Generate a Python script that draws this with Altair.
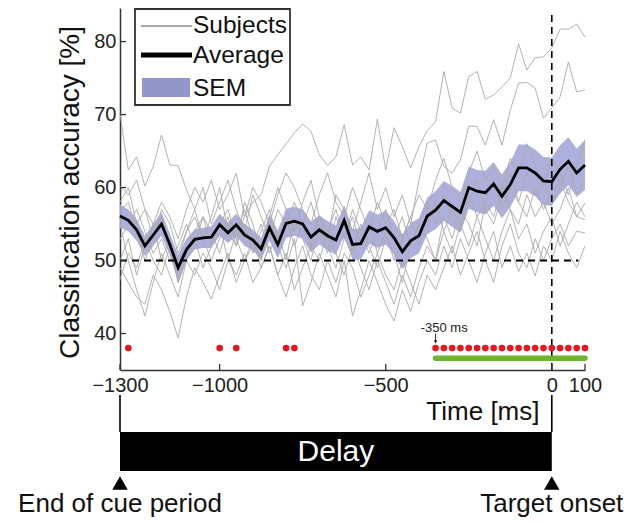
import altair as alt
import pandas as pd

# ---------------- data ----------------
TIME = list(range(-1300, 101, 25))  # 25 ms sample grid, 57 points

AVERAGE = [56.1, 55.5, 54.2, 52.0, 53.5, 55.0, 52.2, 49.0, 51.5, 52.9, 53.1,
           53.2, 54.9, 53.8, 54.9, 53.5, 52.8, 51.6, 54.5, 52.2, 55.1,
           55.4, 55.0, 53.2, 54.2, 53.4, 52.8, 55.5, 52.2, 52.3, 54.6,
           54.0, 54.5, 53.1, 51.2, 52.7, 53.4, 56.1, 56.9, 58.2, 57.4,
           56.6, 60.0, 59.5, 59.3, 60.5, 58.8, 60.4, 62.7, 62.7, 62.0,
           60.9, 60.8, 62.5, 63.6, 62.0, 63.1]

SEM = [1.6, 1.5, 1.5, 1.4, 1.5, 1.6, 1.5,
       1.8, 1.5, 1.4, 1.4, 1.5, 1.5, 1.4, 1.5, 1.5, 1.4, 1.5,
       1.8, 1.9, 2.0, 2.0, 2.0, 2.1, 2.0, 2.0, 2.0, 2.1, 2.1,
       2.2, 2.3, 2.3, 2.3, 2.3, 2.4, 2.4, 2.4, 2.5,
       2.6, 2.7, 2.8, 2.8, 2.9, 2.9, 3.0, 3.0, 3.0, 3.1,
       3.2, 3.2, 3.2, 3.3, 3.3, 3.3, 3.3, 3.3, 3.4]

SUBJECTS = {
    "S1": [70.2, 62.4, 64.2, 60.2, 62.9, 67.2, 63.1, 63.0, 59.7, 57, 60,
           55, 58, 61, 57, 54, 59, 56, 53, 57, 55,
           58, 55, 52, 56, 54, 57, 53, 56, 52, 55,
           51, 54, 50, 53, 56, 52, 55, 58, 54, 57,
           55, 59, 56, 58, 61, 57, 60, 58, 62, 59,
           61, 58, 60, 63, 59, 61],
    "S2": [50, 53, 48, 52, 55, 50, 53, 47, 51, 54, 56,
           52, 55, 57, 53, 56, 58, 59, 62.9, 64.5, 66.0,
           67.5, 68.7, 67.7, 64.5, 63.0, 64.2, 68.6, 63.1, 64.2, 62.4,
           69.4, 62.4, 68.2, 65.6, 62.7, 65.6, 67.8, 69.0, 75.9, 70.9,
           70.2, 75.2, 75.9, 72.1, 72.7, 73.8, 75.0, 79.7, 76.1, 77.8,
           77.9, 79.1, 81.7, 81.7, 82.4, 80.6],
    "S3": [58, 60, 55, 57, 53, 56, 52, 50, 54, 57, 53,
           56, 60, 54, 52, 58, 55, 51, 56, 60, 57,
           54, 58, 61, 56, 53, 59, 57, 54, 58, 62,
           57, 60, 56, 59, 55, 61, 66.1, 66.5, 62.9, 62.0,
           63.8, 68.4, 68.4, 65.8, 69.3, 65.8, 70.6, 74.3, 74.4, 73.6,
           69.5, 70.9, 72.4, 77.2, 73.1, 73.4],
    "S4": [49, 47, 45, 44, 48, 46, 43, 39.4, 45, 49, 47,
           44.7, 48, 51, 47, 50, 53, 49, 52, 48, 51,
           46, 49, 52, 50, 54, 51, 48, 52, 49, 46,
           50, 47, 44, 48, 45, 49, 52, 50, 54, 51,
           55, 52, 56, 53, 50, 54, 57, 53, 55, 51,
           54, 56, 52, 55, 58, 56],
    "S5": [55, 50, 46, 42.4, 47, 51, 48, 45, 50, 53, 49,
           52, 55, 50, 54, 57, 53, 50, 55, 52, 49,
           53, 43.8, 47, 51, 48, 45, 50, 42.4, 46, 50,
           47, 44, 41.7, 46, 43, 47, 50, 48, 52, 49,
           53, 50, 47, 51, 54, 49, 52, 48.5, 51, 47.9,
           52, 50, 54, 51, 49, 52],
    "S6": [60.2, 59, 61, 57, 55, 58, 56, 53, 57, 60, 58,
           61, 57, 59, 62, 56, 60, 58, 55, 59, 62,
           60, 57, 55, 59, 62, 58, 56, 60, 57, 54,
           58, 55, 57, 53, 56, 59, 57, 61, 64, 60,
           58, 62, 65, 61, 63, 60, 64, 62, 66, 63,
           60, 64, 62, 59, 63, 66.5],
    "S7": [52.9, 55, 57, 54, 51, 53, 50, 52, 55, 52, 56,
           54, 51, 55, 53, 50, 52, 55, 51, 54, 50,
           56, 53, 50, 55, 52, 49, 53, 51, 55, 52,
           49, 53, 51, 47, 52, 55, 53, 50, 56, 53,
           57, 55, 52, 58, 56, 60, 57, 55, 59, 56,
           58, 55, 57, 60, 56, 55.6],
    "S8": [56.7, 58, 54, 50, 53, 57, 55, 51, 54, 56, 53,
           50, 53, 56, 52, 55, 51, 54, 57, 53, 56,
           52, 55, 58, 54, 51, 56, 53, 57, 54, 51,
           54, 57, 53, 56, 52, 55, 58, 55, 59, 56,
           54, 58, 61, 57, 55, 59, 62, 58, 56, 60,
           57, 59, 61, 58, 56, 57.9],
    "S9": [47.4, 51, 49, 53, 50, 48, 52, 47, 50, 48, 51,
           49, 46, 50, 48, 51, 47, 49, 52, 48, 45,
           49, 52, 48, 46, 50, 47, 51, 49, 45, 48,
           51, 48, 46, 50, 47, 44, 48, 46, 49, 52,
           48, 51, 54, 50, 47, 52, 55, 51, 49, 53,
           50, 53, 55, 52, 54, 53.8],
}

SIG_TIMES = [-1275, -1000, -950, -800, -775,
             -350, -325, -300, -275, -250, -225, -200, -175, -150, -125,
             -100, -75, -50, -25, 0, 25, 50, 75, 100]
SIG_LEVEL = 38.0
CLUSTER_START, CLUSTER_END, CLUSTER_LEVEL = -350, 100, 36.6
CHANCE = 50
CHANCE_END = 80
X_TICKS = [-1300, -1000, -500, 0, 100]
Y_TICKS = [40, 50, 60, 70, 80]
DELAY_START, DELAY_END = -1300, 0

# ---------------- style ----------------
W, H = 465, 362
FONT = "Liberation Sans"
GRAY = "#a9a9a9"
SEM_FILL = "#a4a7d8"
SEM_LEGEND = "#9296c8"
RED = "#e8161e"
GREEN = "#6db52e"
AX = "#333333"

xscale = alt.Scale(domain=[-1300, 100], nice=False, zero=False)
yscale = alt.Scale(domain=[35, 84.6], nice=False, zero=False)

xaxis = alt.Axis(values=X_TICKS, format="d", ticks=False, tickSize=0, grid=False,
                 labelFontSize=20, labelPadding=5, labelFlush=False,
                 labelOverlap=False, labelColor="#222", labelFont=FONT,
                 domainColor=AX, domainWidth=1.5,
                 title="Time [ms]", titleFontSize=26, titleFontWeight="normal",
                 titleFont=FONT, titleColor="#111",
                 titleX=419, titleY=41, titleAlign="right", titleBaseline="middle")
yaxis = alt.Axis(values=Y_TICKS, ticks=False, tickSize=0, grid=False,
                 labelFontSize=20, labelPadding=4, labelColor="#222", labelFont=FONT,
                 domainColor=AX, domainWidth=1.5,
                 title="Classification accuracy [%]", titleFontSize=28,
                 titleFontWeight="normal", titleFont=FONT, titleColor="#111",
                 titleAngle=270, titleX=-50, titleY=184, titleAlign="center",
                 titleBaseline="middle")

X = lambda f: alt.X(f, type="quantitative", scale=xscale, axis=xaxis)
Y = lambda f: alt.Y(f, type="quantitative", scale=yscale, axis=yaxis)

# ---------------- tables ----------------
avg_df = pd.DataFrame({"t": TIME, "v": AVERAGE, "sem": SEM})
avg_df["lo"] = avg_df["v"] - avg_df["sem"]
avg_df["hi"] = avg_df["v"] + avg_df["sem"]

subj_rows = []
for name, vals in SUBJECTS.items():
    for t, v in zip(TIME, vals):
        subj_rows.append({"subject": name, "t": t, "v": v})
subj_df = pd.DataFrame(subj_rows)

sig_df = pd.DataFrame({"t": SIG_TIMES, "v": [SIG_LEVEL] * len(SIG_TIMES)})
one = pd.DataFrame({"d": [0]})

# ---------------- layers ----------------
band = alt.Chart(avg_df).mark_area(color=SEM_FILL, opacity=0.9).encode(
    x=X("t"), y=Y("lo"), y2="hi")

subjects = alt.Chart(subj_df).mark_line(color=GRAY, strokeWidth=0.9).encode(
    x=X("t"), y=Y("v"), detail="subject:N")

average = alt.Chart(avg_df).mark_line(color="black", strokeWidth=2.8).encode(
    x=X("t"), y=Y("v"))

chance = alt.Chart(pd.DataFrame({"t": [-1300], "t2": [CHANCE_END], "v": [CHANCE]})).mark_rule(
    color="black", strokeWidth=2, strokeDash=[7, 5]).encode(x=X("t"), x2="t2", y=Y("v"))

onset = alt.Chart(pd.DataFrame({"t": [0], "v": [35], "v2": [84.3]})).mark_rule(
    color="black", strokeWidth=1.6, strokeDash=[7, 5]).encode(x=X("t"), y=Y("v"), y2="v2")

dots = alt.Chart(sig_df).mark_circle(color=RED, size=44, opacity=1).encode(
    x=X("t"), y=Y("v"))

cluster = alt.Chart(pd.DataFrame({"t": [CLUSTER_START], "t2": [CLUSTER_END], "v": [CLUSTER_LEVEL]})).mark_rule(
    color=GREEN, strokeWidth=5.5, strokeCap="round").encode(x=X("t"), x2="t2", y=Y("v"))

ann_text = alt.Chart(pd.DataFrame({"t": [-324], "v": [40.7], "label": ["-350 ms"]})).mark_text(
    fontSize=13, font=FONT, color="#222", baseline="middle", align="center").encode(
    x=X("t"), y=Y("v"), text="label:N")
ann_arrow = alt.Chart(pd.DataFrame({"t": [CLUSTER_START], "v": [40.0], "v2": [38.9]})).mark_rule(
    color="#222", strokeWidth=0.9).encode(x=X("t"), y=Y("v"), y2="v2")
ann_head = alt.Chart(pd.DataFrame({"t": [CLUSTER_START], "v": [38.85]})).mark_point(
    shape="triangle-down", filled=True, size=14, color="#222", opacity=1).encode(x=X("t"), y=Y("v"))

xticks = alt.Chart(pd.DataFrame({"t": X_TICKS})).mark_rule(color=AX, strokeWidth=1.3).encode(
    x=X("t"), y=alt.value(H), y2=alt.value(H - 6))
yticks = alt.Chart(pd.DataFrame({"v": Y_TICKS})).mark_rule(color=AX, strokeWidth=1.3).encode(
    y=Y("v"), x=alt.value(0), x2=alt.value(6))

# legend (pixel layout inside the plot area)
leg_box = alt.Chart(one).mark_rect(fill="white", stroke=AX, strokeWidth=1.8).encode(
    x=alt.value(15), x2=alt.value(170), y=alt.value(1), y2=alt.value(97))
leg_subj = alt.Chart(one).mark_rule(color=GRAY, strokeWidth=2).encode(
    x=alt.value(21), x2=alt.value(72), y=alt.value(18))
leg_avg = alt.Chart(one).mark_rule(color="black", strokeWidth=5).encode(
    x=alt.value(21), x2=alt.value(72), y=alt.value(47))
leg_sem = alt.Chart(one).mark_rect(color=SEM_LEGEND).encode(
    x=alt.value(22), x2=alt.value(70), y=alt.value(70), y2=alt.value(89))
leg_text = [
    alt.Chart(one).mark_text(fontSize=24.5, font=FONT, color="#111", align="left", baseline="middle").encode(
        x=alt.value(73), y=alt.value(yy), text=alt.value(lab))
    for lab, yy in [("Subjects", 18), ("Average", 48), ("SEM", 81)]
]

# timeline below the axis
ends_df = pd.DataFrame({"t": [DELAY_START, DELAY_END]})
tl_lines = alt.Chart(ends_df).mark_rule(color="black", strokeWidth=1.6).encode(
    x=X("t"), y=alt.value(387), y2=alt.value(424))
tl_bar = alt.Chart(pd.DataFrame({"t": [DELAY_START], "t2": [DELAY_END]})).mark_rect(color="black").encode(
    x=X("t"), x2="t2", y=alt.value(424), y2=alt.value(463))
tl_label = alt.Chart(pd.DataFrame({"t": [(DELAY_START + DELAY_END) / 2], "label": ["Delay"]})).mark_text(
    fontSize=30, font=FONT, color="white", align="center", baseline="middle").encode(
    x=X("t"), y=alt.value(444), text="label:N")
tl_tri = alt.Chart(ends_df).mark_point(shape="triangle-up", filled=True, size=240, color="black", opacity=1).encode(
    x=X("t"), y=alt.value(475))
tl_text = alt.Chart(pd.DataFrame({"t": [DELAY_START, DELAY_END],
                                  "label": ["End of cue period", "Target onset"]})).mark_text(
    fontSize=26, font=FONT, color="#111", align="center", baseline="middle").encode(
    x=X("t"), y=alt.value(496), text="label:N")

chart = alt.layer(
    band, subjects, average, chance, onset, dots, cluster,
    ann_text, ann_arrow, ann_head, xticks, yticks,
    leg_box, leg_subj, leg_avg, leg_sem, *leg_text,
    tl_lines, tl_bar, tl_label, tl_tri, tl_text,
).properties(
    width=W, height=H,
    autosize=alt.AutoSizeParams(type="none"),
    padding={"left": 112, "top": 0, "right": 39, "bottom": 148},
    background="white",
).configure_view(stroke=None)

chart.save("out.html", embed_options={"renderer": "svg", "actions": False})
